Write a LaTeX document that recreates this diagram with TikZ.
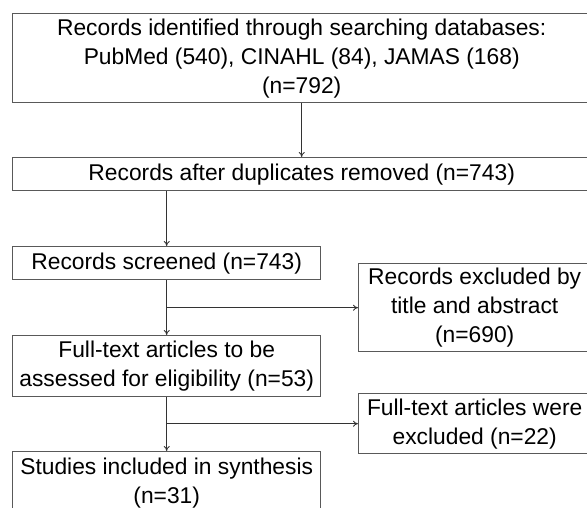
\documentclass[tikz,border=0pt]{standalone}
\usepackage{fontspec}
\setmainfont{Liberation Sans}
\usetikzlibrary{arrows.meta}
\begin{document}
\begin{tikzpicture}[x=1pt,y=-1pt,
  box/.style={draw=black!65, line width=1.4pt, rectangle, inner sep=0pt, align=center,
    font=\fontsize{22.8}{29}\selectfont, anchor=north west},
  conn/.style={draw=black!80, line width=0.8pt, -{To[length=5pt,width=6pt]}}]
\useasboundingbox (0,0) rectangle (587,507);
\begin{scope}
\clip (0,0) rectangle (587,507);
\node[box, minimum width=578pt, minimum height=89pt] (b1) at (12,13)
  {Records identified through searching databases:\\PubMed (540), CINAHL (84), JAMAS (168)\\(n=792)};
\node[box, minimum width=578pt, minimum height=33pt] (b2) at (12,157)
  {Records after duplicates removed (n=743)};
\node[box, minimum width=308pt, minimum height=33pt] (b3) at (12,246)
  {Records screened (n=743)};
\node[box, minimum width=232pt, minimum height=88pt] (e1) at (358,263)
  {Records excluded by\\title and abstract\\(n=690)};
\node[box, minimum width=308pt, minimum height=61pt] (b4) at (12,335)
  {Full-text articles to be\\assessed for eligibility (n=53)};
\node[box, minimum width=232pt, minimum height=60pt] (e2) at (358,393)
  {Full-text articles were\\excluded (n=22)};
\node[box, minimum width=308pt, minimum height=62pt] (b5) at (12,451)
  {Studies included in synthesis\\(n=31)};
\end{scope}
\draw[conn] (b1.south) -- (b2.north);
\draw[conn] (b3.north |- b2.south) -- (b3.north);
\draw[conn] (b3.south) -- (b4.north);
\draw[conn] (b3.south |- e1.west) -- (e1.west);
\draw[conn] (b4.south) -- (b5.north);
\draw[conn] (b4.south |- e2.west) -- (e2.west);
\end{tikzpicture}
\end{document}
